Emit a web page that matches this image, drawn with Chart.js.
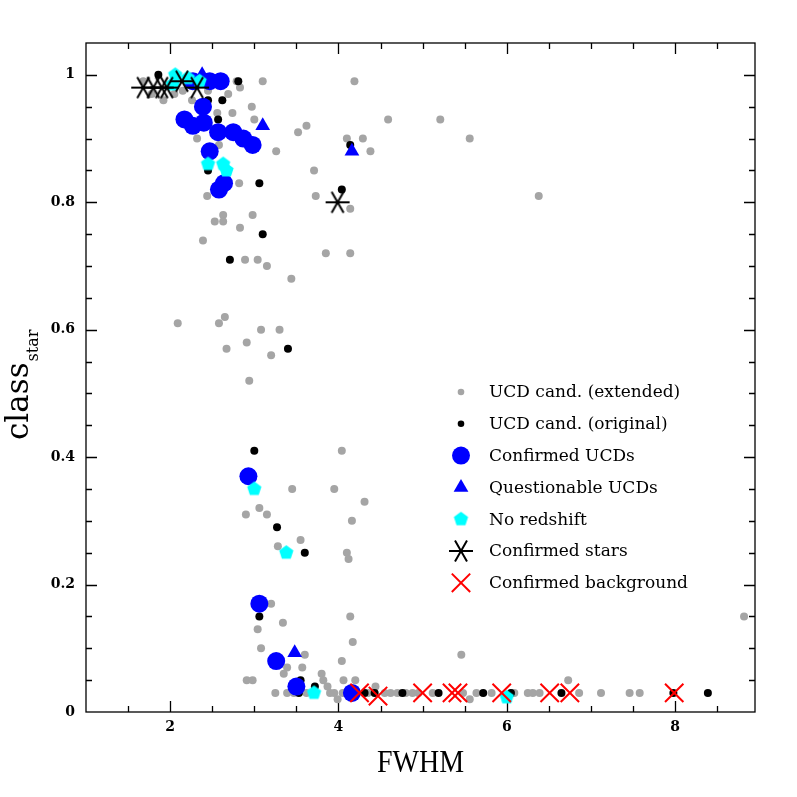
<!DOCTYPE html>
<html>
<head>
<meta charset="utf-8">
<title>class_star vs FWHM</title>
<script src="https://cdn.jsdelivr.net/npm/chart.js@4.4.1/dist/chart.umd.min.js"></script>
<style>
  html, body { margin: 0; padding: 0; background: #fff; }
</style>
</head>
<body>
<canvas id="chart" width="797" height="797"></canvas>
<script>
// axis limits and labelled ticks
const xRange = [1, 8.95];
const yRange = [0, 1.05];
const xTicks = [2, 4, 6, 8];
const yTicks = [0, 0.2, 0.4, 0.6, 0.8, 1];

// [FWHM, class_star]
const ucdExtended = [
  [1.68, 0.99], [1.78, 0.97], [1.92, 0.96], [2.05, 0.97], [2.15, 0.975], [2.26, 0.96],
  [2.45, 0.975], [2.56, 0.94], [2.69, 0.97], [2.79, 0.99], [2.83, 0.98], [2.74, 0.94],
  [2.97, 0.95], [3.0, 0.93], [3.10, 0.99], [3.52, 0.91], [3.62, 0.92], [3.26, 0.88],
  [2.32, 0.90], [2.58, 0.89], [3.71, 0.85], [3.73, 0.81], [2.82, 0.83], [2.44, 0.81],
  [2.63, 0.78], [2.98, 0.78], [2.53, 0.77], [2.63, 0.77], [2.83, 0.76], [2.39, 0.74],
  [2.89, 0.71], [3.04, 0.71], [3.15, 0.70], [3.44, 0.68], [3.85, 0.72], [4.14, 0.72],
  [4.14, 0.79], [4.19, 0.99], [4.59, 0.93], [5.21, 0.93], [4.10, 0.90], [4.29, 0.90],
  [5.56, 0.90], [4.38, 0.88], [6.38, 0.81], [2.09, 0.61], [2.58, 0.61], [2.65, 0.62],
  [3.08, 0.60], [3.30, 0.60], [2.67, 0.57], [2.91, 0.58], [3.20, 0.56], [2.94, 0.52],
  [4.04, 0.41], [3.45, 0.35], [3.95, 0.35], [4.31, 0.33], [2.90, 0.31], [3.06, 0.32],
  [3.15, 0.31], [4.16, 0.30], [3.55, 0.27], [3.28, 0.26], [4.10, 0.25], [4.12, 0.24],
  [3.20, 0.17], [3.34, 0.14], [3.04, 0.13], [4.14, 0.15], [4.17, 0.11], [3.08, 0.10],
  [3.60, 0.09], [4.04, 0.08], [3.39, 0.07], [3.35, 0.06], [3.57, 0.07], [2.91, 0.05],
  [2.98, 0.05], [3.80, 0.06], [3.82, 0.05], [4.06, 0.05], [4.20, 0.05], [3.87, 0.04],
  [3.99, 0.02], [5.46, 0.09], [6.73, 0.05], [8.82, 0.15], [5.56, 0.02],
  [3.25, 0.03], [3.39, 0.03], [3.47, 0.03], [3.62, 0.03], [3.90, 0.03], [3.95, 0.03],
  [4.05, 0.03], [4.12, 0.03], [4.35, 0.03], [4.55, 0.03], [4.62, 0.03], [4.70, 0.03],
  [4.80, 0.03], [4.88, 0.03], [4.95, 0.03], [5.12, 0.03], [5.48, 0.03], [5.64, 0.03],
  [5.82, 0.03], [6.09, 0.03], [6.25, 0.03], [6.31, 0.03], [6.39, 0.03], [6.86, 0.03],
  [7.12, 0.03], [7.46, 0.03], [7.58, 0.03], [4.44, 0.04]
];
const ucdOriginal = [
  [1.86, 1.0], [2.81, 0.99], [2.45, 0.96], [2.62, 0.96], [2.57, 0.93], [3.06, 0.83],
  [2.45, 0.85], [3.10, 0.75], [2.71, 0.71], [4.04, 0.82], [4.14, 0.89], [3.40, 0.57],
  [3.0, 0.41], [3.27, 0.29], [3.60, 0.25], [3.06, 0.15], [3.55, 0.05], [3.72, 0.04],
  [3.53, 0.03], [4.31, 0.03], [4.43, 0.03], [4.76, 0.03], [5.19, 0.03], [5.72, 0.03],
  [6.05, 0.03], [6.65, 0.03], [7.98, 0.03], [8.39, 0.03]
];
const confirmedUcds = [
  [2.27, 0.99], [2.47, 0.99], [2.60, 0.99], [2.39, 0.95], [2.17, 0.93], [2.27, 0.92],
  [2.40, 0.925], [2.57, 0.91], [2.75, 0.91], [2.87, 0.90], [2.98, 0.89], [2.47, 0.88],
  [2.58, 0.82], [2.64, 0.83], [2.93, 0.37], [3.06, 0.17], [3.26, 0.08], [3.50, 0.04],
  [4.16, 0.03]
];
const questionableUcds = [
  [2.38, 1.0], [2.50, 0.99], [3.10, 0.92], [4.16, 0.88], [3.48, 0.093]
];
const noRedshift = [
  [2.03, 0.985], [2.06, 1.0], [2.21, 0.995], [2.35, 0.99], [2.45, 0.86], [2.63, 0.86],
  [2.67, 0.85], [3.0, 0.35], [3.38, 0.25], [3.71, 0.03], [6.0, 0.023]
];
const confirmedStars = [
  [1.68, 0.98], [1.80, 0.98], [1.90, 0.98], [1.96, 0.98], [2.14, 0.99], [2.32, 0.98],
  [3.99, 0.80]
];
const confirmedBackground = [
  [4.25, 0.03], [4.47, 0.025], [5.0, 0.03], [5.35, 0.03], [5.42, 0.03], [5.94, 0.03],
  [6.51, 0.03], [6.75, 0.03], [7.99, 0.03]
];

const toXY = arr => arr.map(p => ({ x: p[0], y: p[1] }));

// symbols that Chart.js has no built-in style for
function pentagonImg(r, color) {
  const c = document.createElement('canvas');
  c.width = c.height = Math.ceil(r * 2 + 2);
  const g = c.getContext('2d');
  g.fillStyle = color;
  g.beginPath();
  for (let i = 0; i < 5; i++) {
    const a = -Math.PI / 2 + i * 2 * Math.PI / 5;
    const px = c.width / 2 + r * Math.cos(a), py = c.height / 2 + r * Math.sin(a);
    i ? g.lineTo(px, py) : g.moveTo(px, py);
  }
  g.closePath();
  g.fill();
  return c;
}
function asteriskImg(r, color) {
  const c = document.createElement('canvas');
  c.width = c.height = Math.ceil(r * 2 + 4);
  const g = c.getContext('2d');
  g.strokeStyle = color;
  g.lineWidth = 2;
  g.beginPath();
  [0, Math.PI / 3, 2 * Math.PI / 3].forEach(a => {
    const dx = r * Math.cos(a), dy = r * Math.sin(a);
    g.moveTo(c.width / 2 - dx, c.height / 2 - dy);
    g.lineTo(c.width / 2 + dx, c.height / 2 + dy);
  });
  g.stroke();
  return c;
}
const pentagon = pentagonImg(7.5, '#00ffff');
const asterisk = asteriskImg(12, '#000000');

// first dataset is drawn on top
const datasets = [
  { label: 'Confirmed background', data: toXY(confirmedBackground), pointStyle: 'crossRot',
    pointRadius: 13, borderColor: '#ff0000', borderWidth: 2, backgroundColor: '#ff0000' },
  { label: 'Confirmed stars', data: toXY(confirmedStars), pointStyle: asterisk },
  { label: 'No redshift', data: toXY(noRedshift), pointStyle: pentagon },
  { label: 'Questionable UCDs', data: toXY(questionableUcds), pointStyle: 'triangle',
    pointRadius: 8.5, backgroundColor: '#0000ff', borderWidth: 0 },
  { label: 'Confirmed UCDs', data: toXY(confirmedUcds), pointStyle: 'circle',
    pointRadius: 9, backgroundColor: '#0000ff', borderWidth: 0 },
  { label: 'UCD cand. (original)', data: toXY(ucdOriginal), pointStyle: 'circle',
    pointRadius: 4, backgroundColor: '#000000', borderWidth: 0 },
  { label: 'UCD cand. (extended)', data: toXY(ucdExtended), pointStyle: 'circle',
    pointRadius: 4, backgroundColor: '#a5a5a5', borderWidth: 0 }
];

function drawSymbol(ctx, ds, x, y) {
  ctx.save();
  if (ds.pointStyle instanceof HTMLCanvasElement) {
    ctx.drawImage(ds.pointStyle, x - ds.pointStyle.width / 2, y - ds.pointStyle.height / 2);
  } else if (ds.pointStyle === 'circle') {
    ctx.fillStyle = ds.backgroundColor;
    ctx.beginPath();
    ctx.arc(x, y, ds.pointRadius, 0, 2 * Math.PI);
    ctx.fill();
  } else if (ds.pointStyle === 'triangle') {
    const r = ds.pointRadius;
    ctx.fillStyle = ds.backgroundColor;
    ctx.beginPath();
    ctx.moveTo(x, y - r);
    ctx.lineTo(x + r * Math.sin(2 * Math.PI / 3), y - r * Math.cos(2 * Math.PI / 3));
    ctx.lineTo(x - r * Math.sin(2 * Math.PI / 3), y - r * Math.cos(2 * Math.PI / 3));
    ctx.closePath();
    ctx.fill();
  } else if (ds.pointStyle === 'crossRot') {
    const d = ds.pointRadius * Math.SQRT1_2;
    ctx.strokeStyle = ds.borderColor;
    ctx.lineWidth = ds.borderWidth;
    ctx.beginPath();
    ctx.moveTo(x - d, y - d); ctx.lineTo(x + d, y + d);
    ctx.moveTo(x - d, y + d); ctx.lineTo(x + d, y - d);
    ctx.stroke();
  }
  ctx.restore();
}

// box with inward ticks on all four sides, axis titles and the legend
const frame = {
  id: 'frame',
  beforeDatasetsDraw(chart) {
    const { ctx, chartArea: a, scales: { x, y } } = chart;
    ctx.save();
    ctx.strokeStyle = '#000';
    ctx.lineWidth = 1.3;
    ctx.strokeRect(a.left, a.top, a.right - a.left, a.bottom - a.top);
    ctx.beginPath();
    for (let i = 3; i * 0.5 < xRange[1]; i++) {
      const px = Math.round(x.getPixelForValue(i * 0.5)) + 0.5;
      const len = i % 4 === 0 ? 11 : 6;
      ctx.moveTo(px, a.bottom); ctx.lineTo(px, a.bottom - len);
      ctx.moveTo(px, a.top); ctx.lineTo(px, a.top + len);
    }
    for (let i = 1; i <= 20; i++) {
      const py = Math.round(y.getPixelForValue(i * 0.05)) + 0.5;
      const len = i % 4 === 0 ? 11 : 6;
      ctx.moveTo(a.left, py); ctx.lineTo(a.left + len, py);
      ctx.moveTo(a.right, py); ctx.lineTo(a.right - len, py);
    }
    ctx.stroke();
    ctx.restore();
  },
  afterDraw(chart) {
    const { ctx, chartArea: a } = chart;
    ctx.save();
    ctx.fillStyle = '#000';

    // x title
    ctx.font = '32px "Liberation Serif"';
    const w = ctx.measureText('FWHM').width;
    ctx.save();
    ctx.translate((a.left + a.right) / 2, 772);
    ctx.scale(87 / w, 1);
    ctx.textAlign = 'center';
    ctx.textBaseline = 'alphabetic';
    ctx.fillText('FWHM', 0, 0);
    ctx.restore();

    // y title with subscript
    ctx.save();
    ctx.translate(28, 440);
    ctx.rotate(-Math.PI / 2);
    ctx.textAlign = 'left';
    ctx.textBaseline = 'alphabetic';
    ctx.font = '31px "DejaVu Serif"';
    ctx.fillText('class', 0, 0);
    const cw = ctx.measureText('class').width;
    ctx.font = '16px "DejaVu Serif"';
    ctx.fillText('star', cw + 1, 10);
    ctx.restore();

    // legend, same order as the reference
    const order = ['UCD cand. (extended)', 'UCD cand. (original)', 'Confirmed UCDs',
      'Questionable UCDs', 'No redshift', 'Confirmed stars', 'Confirmed background'];
    ctx.font = '17px "DejaVu Serif"';
    ctx.textAlign = 'left';
    ctx.textBaseline = 'middle';
    order.forEach((label, i) => {
      const ds = chart.data.datasets.find(d => d.label === label);
      const ly = 392 + i * 31.8;
      let sym = ds;
      if (label.startsWith('UCD cand.')) sym = Object.assign({}, ds, { pointRadius: 3.3 });
      drawSymbol(ctx, sym, 461, ly);
      ctx.fillStyle = '#000';
      ctx.fillText(label, 489, ly + 1);
    });
    ctx.restore();
  }
};

new Chart(document.getElementById('chart'), {
  type: 'scatter',
  data: { datasets },
  options: {
    responsive: false,
    animation: false,
    events: [],
    layout: { padding: { top: 43, right: 42, left: 0, bottom: 0 } },
    plugins: { legend: { display: false }, tooltip: { enabled: false } },
    scales: {
      x: {
        type: 'linear', min: xRange[0], max: xRange[1],
        grid: { display: false, drawTicks: false }, border: { display: false },
        afterBuildTicks: s => { s.ticks = xTicks.map(v => ({ value: v })); },
        afterFit: s => { s.height = 85; },
        ticks: { color: '#000', padding: 7, maxRotation: 0, autoSkip: false,
          font: { family: 'DejaVu Serif', size: 14, weight: 'bold' }, callback: v => String(v) }
      },
      y: {
        type: 'linear', min: yRange[0], max: yRange[1],
        grid: { display: false, drawTicks: false }, border: { display: false },
        afterBuildTicks: s => { s.ticks = yTicks.map(v => ({ value: v })); },
        afterFit: s => { s.width = 86; },
        ticks: { color: '#000', padding: 11, autoSkip: false,
          font: { family: 'DejaVu Serif', size: 14, weight: 'bold' }, callback: v => String(v) }
      }
    }
  },
  plugins: [frame]
});
</script>
</body>
</html>
